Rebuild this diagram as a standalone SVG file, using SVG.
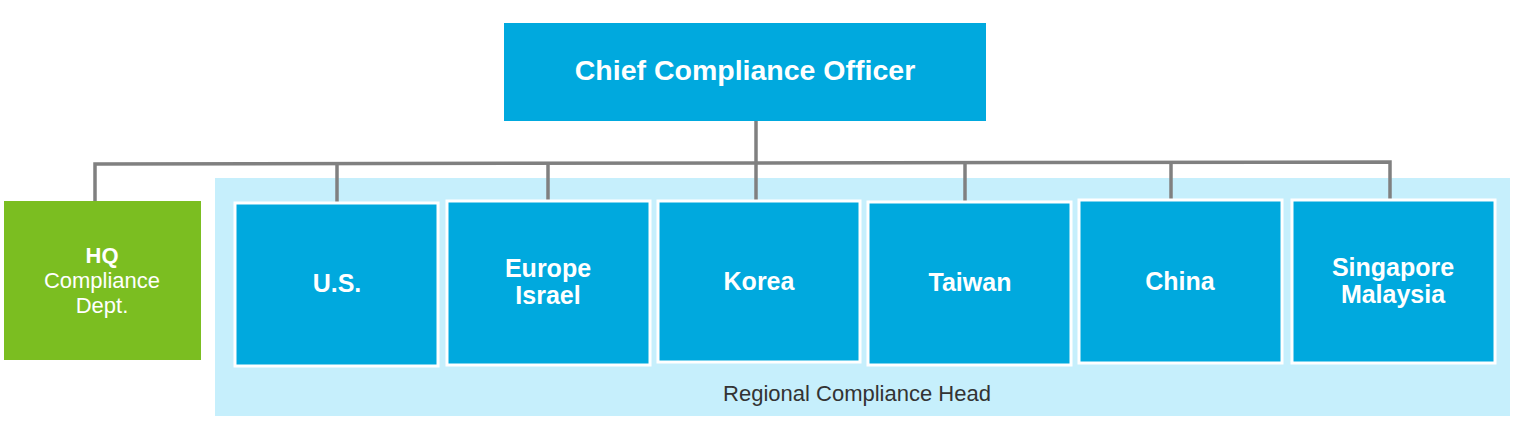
<svg xmlns="http://www.w3.org/2000/svg" width="1513" height="423" viewBox="0 0 1513 423">
<style>
.box{fill:#00A9DE;stroke:#fff;stroke-width:3}
.t{font-family:"Liberation Sans",Arial,sans-serif;fill:#fff;text-anchor:middle}
.b{font-weight:bold;font-size:25px}
.ln{stroke:#808080;stroke-width:3.5;fill:none}
</style>
<rect width="1513" height="423" fill="#fff"/>
<rect id="region-bg" x="215" y="178" width="1295" height="238" fill="#C6EFFC"/>
<g id="connectors">
<path class="ln" d="M756 121V203"/>
<path class="ln" d="M95 204V164L1390 162V202"/>
<path class="ln" d="M337 164V205"/>
<path class="ln" d="M548 164V203"/>
<path class="ln" d="M965 163V206"/>
<path class="ln" d="M1171 163V204"/>
</g>
<g id="cco">
<rect x="504" y="23" width="482" height="98" fill="#00A9DE"/>
<text class="t" x="745" y="80" font-size="28.5" font-weight="bold">Chief Compliance Officer</text>
</g>
<g id="hq">
<rect x="4" y="201" width="197" height="159" fill="#7BBE21"/>
<text class="t" x="102" y="263" font-size="22" font-weight="bold">HQ</text>
<text class="t" x="102" y="288" font-size="22">Compliance</text>
<text class="t" x="102" y="313" font-size="22">Dept.</text>
</g>
<g id="us">
<rect class="box" x="235" y="203" width="203" height="163"/>
<text class="t b" x="337" y="292">U.S.</text>
</g>
<g id="europe">
<rect class="box" x="447" y="201" width="203" height="164"/>
<text class="t b" x="548" y="277">Europe</text>
<text class="t b" x="548" y="304">Israel</text>
</g>
<g id="korea">
<rect class="box" x="658" y="201" width="202" height="161"/>
<text class="t b" x="759" y="290">Korea</text>
</g>
<g id="taiwan">
<rect class="box" x="868" y="202" width="203" height="163"/>
<text class="t b" x="970" y="291">Taiwan</text>
</g>
<g id="china">
<rect class="box" x="1079" y="200" width="203" height="163"/>
<text class="t b" x="1180" y="290">China</text>
</g>
<g id="singapore">
<rect class="box" x="1292" y="200" width="203" height="163"/>
<text class="t b" x="1393" y="276">Singapore</text>
<text class="t b" x="1393" y="303">Malaysia</text>
</g>
<text id="region-label" x="857" y="401" font-family="'Liberation Sans',Arial,sans-serif" font-size="22" fill="#333" text-anchor="middle">Regional Compliance Head</text>
</svg>
